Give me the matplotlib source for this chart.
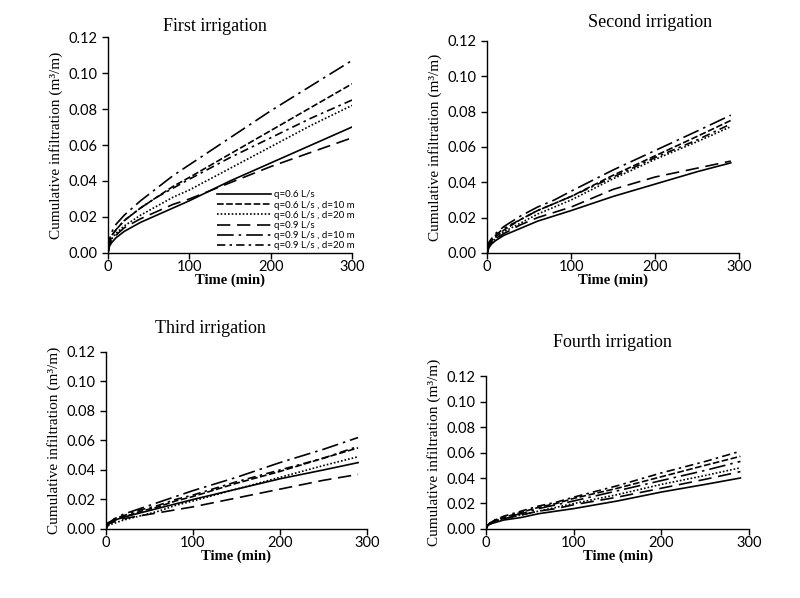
import matplotlib
matplotlib.use('Agg')
from matplotlib import pyplot as plt

# time steps (min)
t1 = [0, 2, 5, 10, 20, 40, 60, 80, 100, 150, 200, 250, 300]
t2 = [0, 2, 5, 10, 20, 40, 60, 80, 100, 150, 200, 250, 290]

labels = ['q=0.6 L/s', 'q=0.6 L/s , d=10 m', 'q=0.6 L/s , d=20 m',
          'q=0.9 L/s', 'q=0.9 L/s , d=10 m', 'q=0.9 L/s , d=20 m']

# first irrigation
first = [
    [0, 0.004, 0.006, 0.0085, 0.012, 0.017, 0.021, 0.025, 0.029, 0.040, 0.050, 0.060, 0.070],
    [0, 0.006, 0.010, 0.013, 0.018, 0.025, 0.031, 0.037, 0.042, 0.055, 0.068, 0.081, 0.094],
    [0, 0.005, 0.008, 0.011, 0.015, 0.021, 0.026, 0.031, 0.035, 0.047, 0.059, 0.071, 0.082],
    [0, 0.005, 0.008, 0.010, 0.014, 0.019, 0.023, 0.027, 0.030, 0.039, 0.048, 0.056, 0.064],
    [0, 0.008, 0.012, 0.016, 0.021, 0.029, 0.036, 0.043, 0.049, 0.064, 0.079, 0.093, 0.107],
    [0, 0.006, 0.010, 0.013, 0.018, 0.025, 0.031, 0.036, 0.041, 0.053, 0.064, 0.075, 0.085],
]

# second irrigation
second = [
    [0, 0.003, 0.005, 0.007, 0.010, 0.014, 0.018, 0.021, 0.024, 0.032, 0.039, 0.046, 0.051],
    [0, 0.005, 0.007, 0.009, 0.013, 0.019, 0.024, 0.028, 0.032, 0.044, 0.055, 0.066, 0.075],
    [0, 0.004, 0.006, 0.008, 0.012, 0.017, 0.022, 0.026, 0.030, 0.042, 0.053, 0.063, 0.0715],
    [0, 0.004, 0.006, 0.008, 0.011, 0.016, 0.020, 0.023, 0.026, 0.036, 0.043, 0.048, 0.052],
    [0, 0.006, 0.008, 0.011, 0.015, 0.021, 0.026, 0.030, 0.035, 0.047, 0.058, 0.069, 0.078],
    [0, 0.005, 0.007, 0.010, 0.014, 0.019, 0.024, 0.028, 0.032, 0.043, 0.054, 0.064, 0.073],
]

# third irrigation
third = [
    [0, 0.003, 0.004, 0.006, 0.008, 0.011, 0.014, 0.017, 0.020, 0.027, 0.034, 0.040, 0.045],
    [0, 0.003, 0.005, 0.006, 0.008, 0.012, 0.015, 0.019, 0.022, 0.031, 0.039, 0.048, 0.055],
    [0, 0.002, 0.003, 0.004, 0.006, 0.009, 0.012, 0.016, 0.019, 0.027, 0.035, 0.043, 0.049],
    [0, 0.003, 0.004, 0.005, 0.007, 0.009, 0.011, 0.013, 0.015, 0.021, 0.027, 0.033, 0.037],
    [0, 0.004, 0.005, 0.007, 0.010, 0.014, 0.018, 0.022, 0.026, 0.035, 0.045, 0.054, 0.062],
    [0, 0.004, 0.005, 0.007, 0.009, 0.013, 0.016, 0.020, 0.023, 0.032, 0.040, 0.048, 0.056],
]

# fourth irrigation
fourth = [
    [0, 0.003, 0.004, 0.005, 0.007, 0.009, 0.012, 0.014, 0.016, 0.022, 0.029, 0.035, 0.040],
    [0, 0.003, 0.005, 0.007, 0.009, 0.013, 0.017, 0.020, 0.024, 0.032, 0.041, 0.050, 0.057],
    [0, 0.003, 0.004, 0.006, 0.008, 0.011, 0.014, 0.017, 0.020, 0.027, 0.035, 0.042, 0.048],
    [0, 0.003, 0.004, 0.006, 0.008, 0.011, 0.014, 0.016, 0.019, 0.025, 0.032, 0.039, 0.045],
    [0, 0.003, 0.005, 0.006, 0.009, 0.012, 0.016, 0.019, 0.022, 0.030, 0.038, 0.046, 0.053],
    [0, 0.003, 0.005, 0.007, 0.010, 0.014, 0.018, 0.021, 0.025, 0.034, 0.044, 0.053, 0.061],
]

titles = ['First irrigation', 'Second irrigation', 'Third irrigation', 'Fourth irrigation']

styles = ['-', (0, (4, 1.5)), (0, (1, 1.2)), (0, (8, 4)), (0, (10, 3, 1.5, 3)), (0, (5, 2.5, 1.5, 2.5))]

serif = 'Liberation Serif'
sans = 'Lato'

fig = plt.figure(figsize=(8, 5.98), dpi=100)

# axes boxes [left, bottom, width, height] and title spots
boxes = [[0.135, 0.577, 0.305, 0.361],
         [0.609, 0.577, 0.315, 0.3545],
         [0.1325, 0.1154, 0.326, 0.296],
         [0.6075, 0.1154, 0.329, 0.2558]]
title_pos = [(0.269, 0.955), (0.812, 0.962), (0.263, 0.45), (0.765, 0.427)]

for k, (data, tt) in enumerate(zip([first, second, third, fourth], [t1, t2, t2, t2])):
    ax = fig.add_axes(boxes[k])
    for s, ls, lab in zip(data, styles, labels):
        ax.plot(tt, s, color='black', linestyle=ls, linewidth=1.2, label=lab)
    ax.set_xlim(0, 300)
    ax.set_ylim(0, 0.12)
    ax.set_xticks([0, 100, 200, 300])
    ax.set_yticks([0, 0.02, 0.04, 0.06, 0.08, 0.10, 0.12])
    ax.set_yticklabels(['%.2f' % v for v in ax.get_yticks()])
    for sp in ['top', 'right']:
        ax.spines[sp].set_visible(False)
    ax.spines['left'].set_linewidth(1.0)
    ax.spines['bottom'].set_linewidth(1.0)
    ax.tick_params(direction='out', length=4, width=1.0, labelsize=10.5)
    ax.tick_params(axis='x', pad=1)
    for lb in ax.get_xticklabels() + ax.get_yticklabels():
        lb.set_fontfamily(sans)
    ax.set_xlabel('Time (min)', fontfamily=serif, fontweight='bold', fontsize=10.5, labelpad=0)
    ax.set_ylabel('Cumulative infiltration (m³/m)', fontfamily=serif, fontsize=11, labelpad=4)
    fig.text(title_pos[k][0], title_pos[k][1], titles[k], fontfamily=serif, fontsize=13,
             ha='center', va='center')
    if k == 0:
        ax.legend(loc='lower right', frameon=False, handlelength=5.5,
                  handletextpad=0.3, labelspacing=0.12, borderaxespad=0.1,
                  prop={'family': sans, 'size': 7}, bbox_to_anchor=(1.03, -0.01))

fig.savefig('out.png', dpi=100)
